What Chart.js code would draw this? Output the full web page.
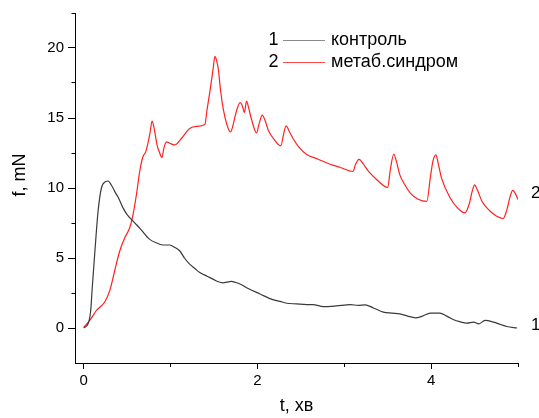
<!DOCTYPE html>
<html>
<head>
<meta charset="utf-8">
<script src="https://cdn.jsdelivr.net/npm/chart.js@4"></script>
<style>
  html, body { margin: 0; padding: 0; background: #ffffff; }
  #wrap { width: 539px; height: 418px; }
</style>
</head>
<body>
<div id="wrap"><canvas id="c" width="539" height="418"></canvas></div>
<script>
// ---- data ----
const controlT = [0.0, 0.05, 0.08, 0.10, 0.127, 0.165, 0.204, 0.25, 0.28, 0.32, 0.357, 0.40, 0.453, 0.50, 0.568, 0.65, 0.76, 0.85, 0.914, 0.99, 1.05, 1.107, 1.16, 1.22, 1.28, 1.337, 1.42, 1.49, 1.55, 1.606, 1.65, 1.70, 1.75, 1.80, 1.90, 2.03, 2.144, 2.26, 2.336, 2.45, 2.567, 2.64, 2.76, 2.91, 3.07, 3.16, 3.24, 3.33, 3.45, 3.55, 3.64, 3.73, 3.82, 3.90, 3.99, 4.10, 4.18, 4.26, 4.33, 4.41, 4.49, 4.55, 4.62, 4.72, 4.80, 4.87, 4.99];
const controlF = [0.0, 0.3, 1.2, 3.0, 5.3, 8.3, 10.0, 10.45, 10.5, 10.2, 9.76, 9.3, 8.58, 8.1, 7.63, 7.1, 6.33, 6.05, 5.93, 5.93, 5.75, 5.5, 5.0, 4.56, 4.25, 3.96, 3.7, 3.49, 3.3, 3.23, 3.28, 3.33, 3.25, 3.14, 2.8, 2.43, 2.1, 1.9, 1.77, 1.72, 1.67, 1.67, 1.53, 1.58, 1.67, 1.62, 1.65, 1.45, 1.13, 1.06, 1.01, 0.85, 0.73, 0.85, 1.06, 1.06, 0.85, 0.59, 0.45, 0.35, 0.42, 0.30, 0.54, 0.42, 0.25, 0.11, 0.0];

const metabT = [0.0, 0.07, 0.146, 0.24, 0.30, 0.357, 0.415, 0.473, 0.53, 0.568, 0.607, 0.645, 0.68, 0.715, 0.74, 0.765, 0.787, 0.81, 0.845, 0.875, 0.90, 0.925, 0.953, 0.99, 1.05, 1.12, 1.22, 1.30, 1.395, 1.42, 1.452, 1.49, 1.51, 1.53, 1.55, 1.575, 1.606, 1.65, 1.69, 1.72, 1.75, 1.80, 1.825, 1.85, 1.875, 1.90, 1.93, 1.99, 2.02, 2.055, 2.09, 2.125, 2.20, 2.27, 2.30, 2.33, 2.37, 2.41, 2.48, 2.567, 2.70, 2.836, 2.95, 3.10, 3.13, 3.17, 3.22, 3.28, 3.375, 3.50, 3.53, 3.57, 3.60, 3.64, 3.70, 3.76, 3.85, 3.95, 3.99, 4.02, 4.055, 4.08, 4.12, 4.22, 4.30, 4.39, 4.44, 4.47, 4.50, 4.53, 4.585, 4.68, 4.75, 4.83, 4.87, 4.91, 4.94, 4.97, 5.0];
const metabF = [0.05, 0.54, 1.25, 1.84, 2.67, 4.09, 5.5, 6.45, 7.16, 8.1, 9.52, 11.18, 12.2, 12.6, 13.2, 14.0, 14.77, 14.3, 13.07, 12.5, 12.17, 12.9, 13.3, 13.2, 13.07, 13.5, 14.25, 14.4, 14.53, 15.6, 16.85, 18.5, 19.4, 19.1, 18.5, 17.0, 15.67, 14.5, 14.0, 14.5, 15.3, 16.1, 15.9, 15.4, 16.2, 15.7, 14.96, 13.94, 14.6, 15.2, 14.8, 14.13, 13.4, 13.02, 13.8, 14.44, 14.0, 13.54, 12.9, 12.4, 12.05, 11.7, 11.48, 11.18, 11.7, 12.05, 11.7, 11.18, 10.59, 10.04, 11.3, 12.43, 11.9, 10.94, 10.2, 9.64, 9.2, 9.05, 10.7, 11.9, 12.36, 11.8, 10.7, 9.28, 8.6, 8.22, 8.9, 9.7, 10.23, 9.9, 9.05, 8.34, 8.0, 7.82, 8.4, 9.4, 9.83, 9.6, 9.17];

const xTickValues = [0, 1, 2, 3, 4, 5];
const xTickLabels = ['0', '', '2', '', '4', ''];
const yTickValues = [0, 2.5, 5, 7.5, 10, 12.5, 15, 17.5, 20, 22.5];
const yTickLabels = ['0', '', '5', '', '10', '', '15', '', '20', ''];

const seriesNumbers = ['1', '2'];
const seriesNames = ['контроль', 'метаб.синдром'];
const endLabelValues = [0.18, 9.6];   // y position (in f units) of right-side curve labels

const xTitle = 't, хв';
const yTitle = 'f, mN';

// ---- styling ----
const FONT = '"Liberation Sans", Arial, sans-serif';
const colControl = '#3a3a3a';
const colMetab = '#ff2020';

const toPts = (ts, fs) => ts.map((t, i) => ({ x: t, y: fs[i] }));

const decorPlugin = {
  id: 'decor',
  afterDraw(chart) {
    const ctx = chart.ctx;
    const xs = chart.scales.x, ys = chart.scales.y;
    ctx.save();
    // legend
    const legendY = [40, 62];
    const legendCols = ['#8a8a8a', '#ff4a4a'];
    ctx.font = '18px ' + FONT;
    ctx.textBaseline = 'middle';
    for (let i = 0; i < 2; i++) {
      ctx.fillStyle = '#000';
      ctx.textAlign = 'center';
      ctx.fillText(seriesNumbers[i], 273.5, legendY[i]);
      ctx.strokeStyle = legendCols[i];
      ctx.lineWidth = 1;
      ctx.beginPath();
      ctx.moveTo(283, legendY[i] + 0.5);
      ctx.lineTo(325, legendY[i] + 0.5);
      ctx.stroke();
      ctx.textAlign = 'left';
      ctx.fillStyle = '#000';
      ctx.fillText(seriesNames[i], 331, legendY[i]);
    }
    // right-end labels
    ctx.textAlign = 'left';
    ctx.font = '17px ' + FONT;
    for (let i = 0; i < 2; i++) {
      ctx.fillText(seriesNumbers[i], xs.getPixelForValue(xs.max) + 13, ys.getPixelForValue(endLabelValues[i]));
    }
    // y axis title
    ctx.translate(20, 175);
    ctx.rotate(-Math.PI / 2);
    ctx.textAlign = 'center';
    ctx.font = '18px ' + FONT;
    ctx.fillText(yTitle, 0, 0);
    ctx.restore();
  }
};

new Chart(document.getElementById('c'), {
  type: 'line',
  data: {
    datasets: [
      { label: seriesNames[0], data: toPts(controlT, controlF), borderColor: colControl, borderWidth: 1.2, pointRadius: 0, cubicInterpolationMode: 'monotone', fill: false },
      { label: seriesNames[1], data: toPts(metabT, metabF), borderColor: colMetab, borderWidth: 1.2, pointRadius: 0, cubicInterpolationMode: 'monotone', fill: false }
    ]
  },
  options: {
    responsive: false,
    devicePixelRatio: 1,
    animation: false,
    layout: { padding: { top: 10, right: 21, left: 0, bottom: 0 } },
    plugins: { legend: { display: false }, tooltip: { enabled: false } },
    scales: {
      x: {
        type: 'linear',
        min: -0.1, max: 5,
        afterFit(s) { s.height = 55; },
        afterBuildTicks(s) { s.ticks = xTickValues.map(v => ({ value: v })); },
        border: { display: true, color: '#000', width: 1 },
        grid: {
          drawOnChartArea: false, drawTicks: true, tickLength: 6, tickColor: '#000', tickWidth: 1,
          tickBorderDash: (c) => (xTickLabels[c.index] === '' ? [3, 100] : [])
        },
        ticks: {
          autoSkip: false, maxRotation: 0, padding: 3, color: '#000',
          font: { family: FONT, size: 15 },
          callback: (v, i) => xTickLabels[i]
        },
        title: { display: true, text: xTitle, color: '#000', font: { family: FONT, size: 18 }, padding: { top: 0, bottom: 1 } }
      },
      y: {
        type: 'linear',
        min: -2.5, max: 22.5,
        afterFit(s) { s.width = 75; },
        afterBuildTicks(s) { s.ticks = yTickValues.map(v => ({ value: v })); },
        border: { display: true, color: '#000', width: 1 },
        grid: {
          drawOnChartArea: false, drawTicks: true, tickLength: 7, tickColor: '#000', tickWidth: 1,
          tickBorderDash: (c) => (yTickLabels[c.index] === '' ? [3.5, 100] : []),
          tickBorderDashOffset: (c) => (yTickLabels[c.index] === '' ? 100 : 0)
        },
        ticks: {
          autoSkip: false, padding: 4, color: '#000',
          font: { family: FONT, size: 15 },
          callback: (v, i) => yTickLabels[i]
        }
      }
    }
  },
  plugins: [decorPlugin]
});
</script>
</body>
</html>
